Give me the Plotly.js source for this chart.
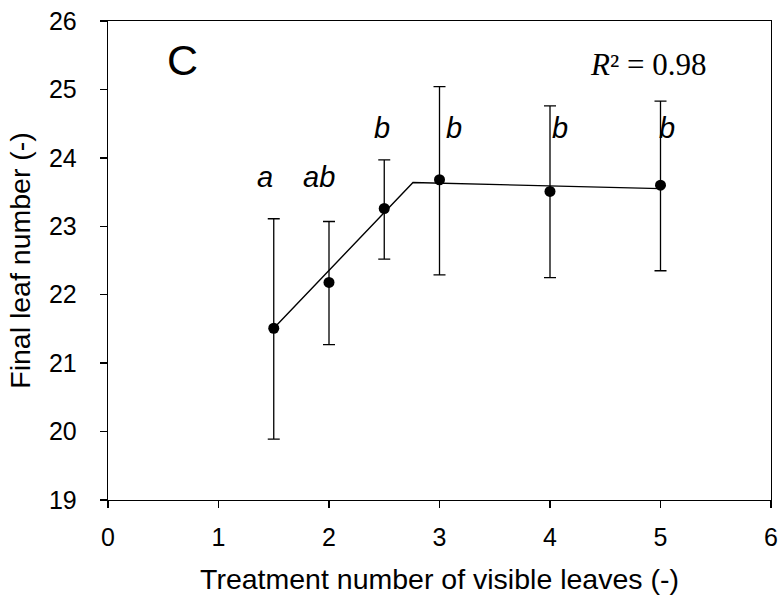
<!DOCTYPE html>
<html>
<head>
<meta charset="utf-8">
<script src="https://cdn.plot.ly/plotly-3.0.1.min.js"></script>
<style>html,body{margin:0;padding:0;background:#fff;}#chart{width:783px;height:601px;}</style>
</head>
<body>
<div id="chart"></div>
<script>
// Treatment (number of visible leaves) and final leaf number
const treatment = [1.5, 2, 2.5, 3, 4, 5];
const finalLeaf = [21.51, 22.18, 23.26, 23.68, 23.51, 23.60];
const errPlus   = [1.60, 0.89, 0.71, 1.36, 1.25, 1.23];
const errMinus  = [1.62, 0.91, 0.74, 1.39, 1.26, 1.25];
// Segmented (broken-stick) fit
const fitX = [1.5, 2.76, 5];
const fitY = [21.51, 23.64, 23.55];
// Significance letters
const letters = ['a', 'ab', 'b', 'b', 'b', 'b'];
const panelLabel = 'C';
const r2Text = '<i>R</i>² = 0.98';
const xTicks = [0, 1, 2, 3, 4, 5, 6];
const yTicks = [19, 20, 21, 22, 23, 24, 25, 26];

// label placement (styling, not data)
const letterY = [23.72, 23.72, 24.44, 24.44, 24.44, 24.44];
const letterShift = [-9, -10, -2, 14, 10, 6];

const traces = [
  {
    x: fitX, y: fitY, type: 'scatter', mode: 'lines',
    line: {color: '#000', width: 1.4}, hoverinfo: 'skip', showlegend: false
  },
  {
    x: treatment, y: finalLeaf, type: 'scatter', mode: 'markers',
    marker: {color: '#000', size: 11},
    error_y: {type: 'data', symmetric: false, array: errPlus, arrayminus: errMinus,
              color: '#000', thickness: 1.3, width: 6},
    showlegend: false
  }
];

const annotations = letters.map((t, i) => ({
  x: treatment[i], y: letterY[i], xref: 'x', yref: 'y', text: t, showarrow: false,
  xshift: letterShift[i],
  font: {family: 'Liberation Sans, Arial, sans-serif', size: 29, color: '#000', style: 'italic'}
}));
annotations.push({
  x: 0.67, y: 25.43, xref: 'x', yref: 'y', text: panelLabel, showarrow: false,
  font: {family: 'Liberation Sans, Arial, sans-serif', size: 43, color: '#000'}
});
annotations.push({
  x: 4.89, y: 25.36, xref: 'x', yref: 'y', text: r2Text, showarrow: false,
  font: {family: 'Liberation Serif, Times New Roman, serif', size: 31, color: '#000'}
});

const axisCommon = {
  showgrid: false, zeroline: false, showline: true, linecolor: '#000', linewidth: 1.3,
  mirror: true, ticks: 'outside', ticklen: 7, tickwidth: 1.3, tickcolor: '#000',
  tickfont: {family: 'Liberation Sans, Arial, sans-serif', size: 25, color: '#000'}
};

const layout = {
  width: 783, height: 601,
  margin: {l: 108, r: 12, t: 21, b: 101},
  paper_bgcolor: '#fff', plot_bgcolor: '#fff',
  xaxis: Object.assign({}, axisCommon, {
    range: [0, 6], tickmode: 'array', tickvals: xTicks, ticklabelstandoff: 8,
    title: {text: 'Treatment number of visible leaves (-)', standoff: 18,
            font: {family: 'Liberation Sans, Arial, sans-serif', size: 28.5, color: '#000'}}
  }),
  yaxis: Object.assign({}, axisCommon, {
    range: [19, 26], tickmode: 'array', tickvals: yTicks, ticklabelstandoff: 18,
    title: {text: 'Final leaf number (-)', standoff: 10,
            font: {family: 'Liberation Sans, Arial, sans-serif', size: 28.5, color: '#000'}}
  }),
  annotations: annotations,
  showlegend: false
};

Plotly.newPlot('chart', traces, layout, {displayModeBar: false, staticPlot: true});
</script>
</body>
</html>
